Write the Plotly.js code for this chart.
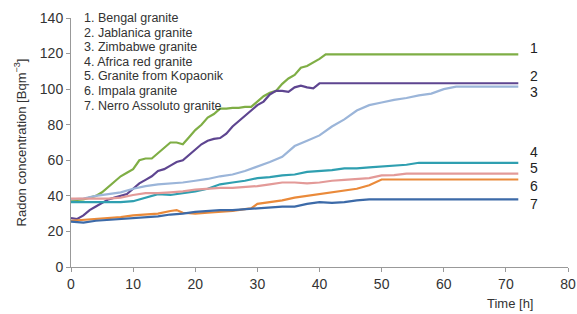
<!DOCTYPE html>
<html>
<head>
<meta charset="utf-8">
<script src="https://cdn.plot.ly/plotly-3.0.1.min.js"></script>
<style>html,body{margin:0;padding:0;background:#fff;}</style>
</head>
<body>
<div id="chart" style="width:577px;height:314px;"></div>
<script>
const seriesNames = ["1. Bengal granite","2. Jablanica granite","3. Zimbabwe granite","4. Africa red granite","5. Granite from Kopaonik","6. Impala granite","7. Nerro Assoluto granite"];
const endLabels = ["1","2","3","4","5","6","7"];
const colors = ["#7fae45","#5e4590","#9bb5d9","#2f9fb0","#e39a98","#ea8a3a","#3c6aa8"];

const tBengal = [0,1,2,3,4,5,6,7,8,9,10,11,12,13,14,15,16,17,18,19,20,21,22,23,24,25,26,27,28,29,30,31,32,33,34,35,36,37,38,39,40,41,72];
const yBengal = [37.5,37.8,38,39,40,42,45,48,51,53,55,60,61,61,64,67,70,70,69,73,77,80,84,86,89,89,89.5,89.5,90,90,93,96,98,99,103,106,108,112,113,115,117,119.5,119.5];

const tJablanica = [0,1,2,3,4,5,6,7,8,9,10,11,12,13,14,15,16,17,18,19,20,21,22,23,24,25,26,27,28,29,30,31,32,33,34,35,36,37,38,39,40,72];
const yJablanica = [27.5,27,29,32,34,36,38,39,40,41,44,47,49,51,54,55,57,59,60,63,66,69,71,72,72.5,75,79,82,85,88,91,93,97,99,99,98.5,101,102,101,100.5,103.3,103.3];

const tZimbabwe = [0,2,4,6,8,10,12,14,16,18,20,22,24,26,28,30,32,34,36,38,40,42,44,46,48,50,52,54,56,58,60,62,72];
const yZimbabwe = [38,38.5,40,41,42,44,45.5,46.5,47,47.5,48.5,49.5,51,52,54,56.5,59,62,68,71,74,79,83,88,91,92.5,94,95,96.5,97.5,100,101.4,101.4];

const tAfrica = [0,2,4,6,8,10,12,14,16,18,20,22,24,26,28,30,32,34,36,38,40,42,44,46,48,50,52,54,56,72];
const yAfrica = [36.5,36.5,36.5,36.5,36.5,37,39,41,40.5,41.5,42.5,44,46.5,47.5,48.5,50,50.5,51.5,52,53.5,54,54.5,55.5,55.5,56,56.5,57,57.5,58.6,58.6];

const tKopaonik = [0,2,4,6,8,10,12,14,16,18,20,22,24,26,28,30,32,34,36,38,40,42,44,46,48,50,52,54,72];
const yKopaonik = [38.5,38.5,38.5,38.5,39,40.5,41.5,41.5,42,42.5,43.5,44,44.5,44.5,45,45.5,46.5,47.5,47.5,47,47.5,48.5,49,49.5,50,51.5,51.7,52.5,52.5];

const tImpala = [0,2,4,6,8,10,12,14,16,17,18,20,22,24,26,28,29,30,32,34,36,38,40,42,44,46,48,50,72];
const yImpala = [26,26.5,27,27.5,28,29,29.5,30,31.5,32,30.5,30,30.5,31,31.5,32.5,33,35.5,36.5,37.5,39,40,41,42,43,44,46,49.2,49.2];

const tNerro = [0,2,4,6,8,10,12,14,16,18,20,22,24,26,28,30,32,34,36,38,40,42,44,46,48,72];
const yNerro = [25.5,25,26,26.5,27,27.5,28,28.5,29.5,30,31,31.5,32,32,32.5,33,33.5,34,34,35.5,36.5,36,36.5,37.5,38,38];

const xTicks = [0,10,20,30,40,50,60,70,80];
const yTicks = [0,20,40,60,80,100,120,140];

const allT = [tBengal,tJablanica,tZimbabwe,tAfrica,tKopaonik,tImpala,tNerro];
const allY = [yBengal,yJablanica,yZimbabwe,yAfrica,yKopaonik,yImpala,yNerro];
const labelY = [123.2,107.4,98.2,64.6,55.6,45.5,35.3];
const labelX = 74.6;

const traces = allT.map((t,i)=>({
  x: t, y: allY[i], type:'scatter', mode:'lines', name: seriesNames[i],
  line:{color:colors[i], width:2.2, shape:'linear'}, showlegend:false, hoverinfo:'skip'
}));

const FONT = 'Liberation Sans, Arial, sans-serif';
const annotations = [];
endLabels.forEach((s,i)=>{
  annotations.push({x:labelX, y:labelY[i], xref:'x', yref:'y', text:s, showarrow:false,
    xanchor:'center', yanchor:'middle', font:{family:FONT, size:14, color:'#222'}});
});
seriesNames.forEach((s,i)=>{
  annotations.push({x:0.022, y:1.0 - i*0.0587, xref:'paper', yref:'paper', text:s, showarrow:false,
    xanchor:'left', yanchor:'middle', font:{family:FONT, size:12.5, color:'#333'}});
});
annotations.push({x:1.0, y:-0.145, xref:'paper', yref:'paper', text:'Time [h]', showarrow:false,
  xanchor:'right', yanchor:'middle', xshift:-33, font:{family:FONT, size:13, color:'#333'}});

const layout = {
  width:577, height:314,
  margin:{l:71, r:9, t:18, b:47},
  paper_bgcolor:'#fff', plot_bgcolor:'#fff',
  font:{family:FONT, color:'#333'},
  xaxis:{range:[0,80], tickvals:xTicks, ticktext:xTicks.map(String), showgrid:false, zeroline:false,
    showline:true, linecolor:'#999', linewidth:1, ticks:'outside', ticklen:4, tickcolor:'#999',
    tickfont:{size:14, color:'#333'}},
  yaxis:{range:[0,140], tickvals:yTicks, ticktext:yTicks.map(String), showgrid:false, zeroline:false,
    showline:true, linecolor:'#999', linewidth:1, ticks:'outside', ticklen:4, tickcolor:'#999',
    tickfont:{size:14, color:'#333'},
    title:{text:'Radon concentration [Bqm<sup>−3</sup>]', font:{size:13, color:'#333'}, standoff:10}},
  annotations: annotations
};

Plotly.newPlot('chart', traces, layout, {displayModeBar:false, staticPlot:true});
</script>
</body>
</html>
